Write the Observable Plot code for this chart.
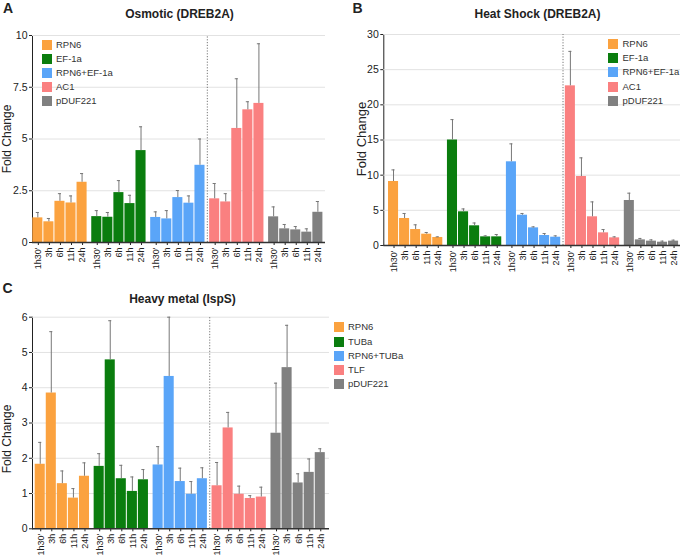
<!DOCTYPE html>
<html>
<head>
<meta charset="utf-8">
<script src="https://cdn.jsdelivr.net/npm/d3@7"></script>
<script src="https://cdn.jsdelivr.net/npm/@observablehq/plot@0.6"></script>
<style>
  body { margin: 0; background: #fff; }
  #wrap { position: relative; width: 685px; height: 555px; overflow: hidden; font-family: "Liberation Sans", Arial, Helvetica, sans-serif; color: #222; }
  #wrap svg { position: absolute; overflow: visible; }
  #wrap svg [aria-label^="x-axis"] text { font-size: 9px; }
  #wrap svg [aria-label^="y-axis"] text { font-size: 10.5px; }
  .t { position: absolute; white-space: nowrap; line-height: 1; transform: translate(-50%, -50%); }
  .letter { position: absolute; font-weight: bold; font-size: 14px; line-height: 1; transform: translateY(-50%); }
  .title { font-weight: bold; font-size: 12px; }
  .ylab { transform: translate(-50%, -50%) rotate(-90deg); }
  .leg { position: absolute; font-size: 9.5px; line-height: 1; color: #333; white-space: nowrap; }
  .sw { position: absolute; width: 10px; height: 10px; }
</style>
</head>
<body>
<div id="wrap"></div>
<script>
// ---- data ----
const times = ["1h30'", "3h", "6h", "11h", "24h"];
const genesAB = ["RPN6", "EF-1a", "RPN6+EF-1a", "AC1", "pDUF221"];
const genesC = ["RPN6", "TUBa", "RPN6+TUBa", "TLF", "pDUF221"];
const colors = ["#FBA23F", "#0A7D0E", "#5AA5F8", "#FA8080", "#808080"];

const osmoticMean = [
  [1.19, 1.00, 1.99, 1.91, 2.91],
  [1.25, 1.22, 2.41, 1.88, 4.44],
  [1.21, 1.14, 2.17, 1.90, 3.73],
  [2.11, 1.96, 5.51, 6.41, 6.72],
  [1.24, 0.66, 0.61, 0.50, 1.46]
];
const osmoticSD = [
  [0.26, 0.16, 0.37, 0.34, 0.42],
  [0.29, 0.23, 0.58, 0.40, 1.15],
  [0.27, 0.40, 0.34, 0.35, 1.27],
  [0.74, 0.40, 2.40, 0.39, 2.88],
  [0.48, 0.21, 0.16, 0.16, 0.52]
];
const heatMean = [
  [9.10, 3.84, 2.27, 1.61, 1.14],
  [15.0, 4.79, 2.80, 1.23, 1.23],
  [11.9, 4.31, 2.51, 1.42, 1.18],
  [22.7, 9.81, 4.08, 1.80, 1.09],
  [6.40, 0.80, 0.62, 0.47, 0.62]
];
const heatSD = [
  [1.65, 0.71, 0.67, 0.24, 0.09],
  [2.90, 0.41, 0.40, 0.14, 0.33],
  [2.55, 0.24, 0.14, 0.28, 0.19],
  [4.90, 2.65, 2.12, 0.47, 0.14],
  [1.04, 0.20, 0.18, 0.15, 0.14]
];
const metalMean = [
  [1.83, 3.85, 1.28, 0.87, 1.49],
  [1.77, 4.79, 1.42, 1.06, 1.39],
  [1.81, 4.32, 1.34, 0.98, 1.42],
  [1.22, 2.86, 0.98, 0.86, 0.90],
  [2.71, 4.57, 1.30, 1.60, 2.16]
];
const metalSD = [
  [0.62, 1.74, 0.36, 0.27, 0.38],
  [0.36, 1.11, 0.38, 0.41, 0.29],
  [0.52, 1.68, 0.38, 0.36, 0.31],
  [0.66, 0.44, 0.23, 0.08, 0.28],
  [1.42, 1.20, 0.26, 0.38, 0.11]
];
const ticksA = [0, 2.5, 5, 7.5, 10];
const ticksB = [0, 5, 10, 15, 20, 25, 30];
const ticksC = [0, 1, 2, 3, 4, 5, 6];

// ---- layout ----
const G = 5.33;   // group step in bar units (5 bars + gap)
const K = 11.06;  // px per bar unit
const wrap = document.getElementById("wrap");

function panel(o) {
  const data = [];
  o.genes.forEach((g, gi) => times.forEach((t, ti) =>
    data.push({gene: g, time: t, pos: gi * G + ti, mean: o.mean[gi][ti], sd: o.sd[gi][ti]})));
  const x0 = -(o.firstBar - o.ml) / K;
  const x1 = x0 + (o.width - o.ml - o.mr) / K;
  const tickPos = data.map(d => d.pos + 0.5);
  const labelOf = new Map(data.map(d => [d.pos + 0.5, d.time]));
  const divider = (2 * G + 5 + 3 * G) / 2;
  const yMax = o.yTicks[o.yTicks.length - 1];
  const svg = Plot.plot({
    width: o.width, height: o.height,
    marginLeft: o.ml, marginRight: o.mr, marginTop: o.mt, marginBottom: o.mb,
    style: {fontFamily: "Liberation Sans, Arial, sans-serif", fontSize: "10px", color: "#222", background: "transparent", overflow: "visible"},
    x: {domain: [x0, x1], ticks: tickPos, tickFormat: d => labelOf.get(d), tickRotate: -90, tickSize: 3, tickPadding: 2, label: null},
    y: {domain: [0, yMax], ticks: o.yTicks, tickFormat: d => String(d), line: true, tickSize: 3, tickPadding: 2, label: null},
    color: {domain: o.genes, range: colors},
    marks: [
      Plot.ruleY(o.yTicks.filter(t => t > 0), {stroke: "#e2e2e2"}),
      Plot.ruleX([divider], {y1: 0, y2: yMax, stroke: "#777", strokeDasharray: "1.2,1.6", dx: -0.5}),
      Plot.rect(data, {x1: "pos", x2: d => d.pos + 1, y1: 0, y2: "mean", fill: "gene", insetRight: 1}),
      Plot.ruleX(data, {x: d => d.pos + 0.5, y1: "mean", y2: d => d.mean + d.sd, stroke: "#777", dx: -0.5}),
      Plot.ruleY(data, {y: d => d.mean + d.sd, x1: d => d.pos + 0.36, x2: d => d.pos + 0.64, stroke: "#777", dx: -0.5}),
      Plot.ruleY([0], {stroke: "#333", strokeWidth: 1.5})
    ]
  });
  svg.style.left = o.left + "px";
  svg.style.top = o.top + "px";
  wrap.appendChild(svg);
}

panel({mean: osmoticMean, sd: osmoticSD, genes: genesAB, yTicks: ticksA,
  left: 0, top: 0, width: 340, height: 275, ml: 32, mr: 15, mt: 35, mb: 33, firstBar: 32.3});
panel({mean: heatMean, sd: heatSD, genes: genesAB, yTicks: ticksB,
  left: 340, top: 0, width: 345, height: 278, ml: 43.3, mr: 5, mt: 34, mb: 33, firstBar: 48});
panel({mean: metalMean, sd: metalSD, genes: genesC, yTicks: ticksC,
  left: 0, top: 280, width: 410, height: 275, ml: 32, mr: 81, mt: 36.7, mb: 26.7, firstBar: 34.7});

function addText(cls, txt, x, y, size) {
  const el = document.createElement("div");
  el.className = cls;
  el.textContent = txt;
  el.style.left = x + "px";
  el.style.top = y + "px";
  if (size) el.style.fontSize = size + "px";
  wrap.appendChild(el);
}
addText("letter", "A", 3, 8);
addText("letter", "B", 352.5, 7.5);
addText("letter", "C", 2.5, 288);
addText("t title", "Osmotic (DREB2A)", 179.5, 14);
addText("t title", "Heat Shock (DREB2A)", 537.5, 14);
addText("t title", "Heavy metal (IspS)", 182.5, 298.5);
addText("t ylab", "Fold Change", 7, 139, 12);
addText("t ylab", "Fold Change", 361, 139, 13);
addText("t ylab", "Fold Change", 7, 439, 12);

function legend(genes, sx, tx, y0, step) {
  genes.forEach((g, i) => {
    const cy = y0 + i * step;
    const sw = document.createElement("div");
    sw.className = "sw";
    sw.style.background = colors[i];
    sw.style.left = sx + "px";
    sw.style.top = (cy - 5) + "px";
    wrap.appendChild(sw);
    const tx_ = document.createElement("div");
    tx_.className = "leg";
    tx_.textContent = g;
    tx_.style.left = tx + "px";
    tx_.style.top = cy + "px";
    tx_.style.transform = "translateY(-50%)";
    wrap.appendChild(tx_);
  });
}
legend(genesAB, 41.5, 56, 45, 13.9);
legend(genesAB, 608, 622.5, 44, 14.2);
legend(genesC, 334, 348, 327.3, 14.2);
</script>
</body>
</html>
